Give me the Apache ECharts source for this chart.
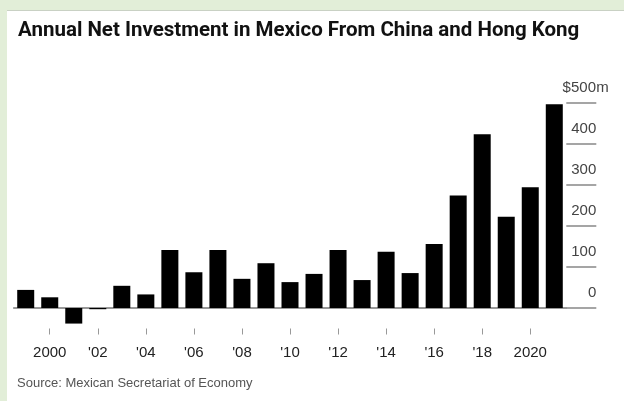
<!DOCTYPE html>
<html>
<head>
<meta charset="utf-8">
<script src="https://cdn.jsdelivr.net/npm/echarts@6.0.0/dist/echarts.min.js"></script>
<style>
  html, body { margin: 0; padding: 0; width: 624px; height: 401px; background: #e2eed8; overflow: hidden; }
  #panel { position: absolute; left: 7px; top: 10px; right: 0; bottom: 0; background: #fff; border-top: 1px solid #c9d1c4; }
  #chart { position: absolute; left: 0; top: 0; width: 624px; height: 401px; }
</style>
</head>
<body>
<div id="panel"></div>
<div id="chart"></div>
<script>
// Annual net investment, $ millions
const years = ['1999', '2000', '2001', '2002', '2003', '2004', '2005', '2006', '2007', '2008', '2009', '2010',
               '2011', '2012', '2013', '2014', '2015', '2016', '2017', '2018', '2019', '2020', '2021'];
const netInvestment = [44, 26, -38, -3, 54, 33, 141, 87, 141, 71, 109, 63,
                       83, 141, 68, 137, 85, 156, 274, 423, 222, 294, 496];

// Axis ticks
const xTickYears = ['2000', '2002', '2004', '2006', '2008', '2010', '2012', '2014', '2016', '2018', '2020'];
const xTickLabels = ['2000', "'02", "'04", "'06", "'08", "'10", "'12", "'14", "'16", "'18", '2020'];
const yTickValues = [0, 100, 200, 300, 400, 500];
const yTickLabels = ['0', '100', '200', '300', '400', '$500'];
const yUnit = 'm';

const labelFont = 'Liberation Sans, Arial, sans-serif';

const chart = echarts.init(document.getElementById('chart'), null, { renderer: 'canvas' });

chart.setOption({
  animation: false,
  title: [
    {
      text: 'Annual Net Investment in Mexico From China and Hong Kong',
      left: 18,
      top: 20,
      padding: 0,
      textStyle: {
        fontFamily: 'Roboto, Liberation Sans, sans-serif',
        fontWeight: 'bold',
        fontSize: 20.5,
        color: '#111'
      }
    },
    {
      text: 'Source: Mexican Secretariat of Economy',
      left: 17,
      top: 377,
      padding: 0,
      textStyle: {
        fontFamily: labelFont,
        fontWeight: 'normal',
        fontSize: 13,
        color: '#555'
      }
    }
  ],
  grid: {
    left: 13.7,
    top: 102.7,
    width: 552.6,
    height: 225.8,
    containLabel: false
  },
  xAxis: [
    {
      // baseline at zero
      type: 'category',
      data: years,
      position: 'bottom',
      axisLine: { show: true, onZero: true, lineStyle: { color: '#777', width: 1.5 } },
      axisTick: { show: false },
      axisLabel: { show: false },
      splitLine: { show: false }
    },
    {
      // year ticks and labels below the bars
      type: 'category',
      data: years,
      position: 'bottom',
      axisLine: { show: false, onZero: false },
      axisTick: {
        show: true,
        alignWithLabel: true,
        length: 6,
        interval: (idx, val) => xTickYears.indexOf(val) >= 0,
        lineStyle: { color: '#999', width: 1 }
      },
      axisLabel: {
        show: true,
        interval: (idx, val) => xTickYears.indexOf(val) >= 0,
        formatter: (val) => xTickLabels[xTickYears.indexOf(val)],
        margin: 16,
        fontFamily: labelFont,
        fontSize: 15,
        lineHeight: 16,
        color: '#222'
      },
      splitLine: { show: false }
    }
  ],
  yAxis: {
    type: 'value',
    position: 'right',
    min: -50,
    max: 500,
    axisLine: { show: false },
    splitLine: { show: false },
    axisTick: {
      show: true,
      length: 30,
      customValues: yTickValues,
      lineStyle: { color: '#888', width: 1.5 }
    },
    axisLabel: {
      show: true,
      customValues: yTickValues,
      align: 'left',
      verticalAlign: 'bottom',
      margin: -4,
      padding: [0, 0, 7, 0],
      formatter: (v) => {
        const i = yTickValues.indexOf(v);
        if (i < 0) return '';
        const t = '{n|' + yTickLabels[i] + '}';
        return i === yTickValues.length - 1 ? t + '{u|' + yUnit + '}' : t;
      },
      rich: {
        n: { width: 34, align: 'right', fontFamily: labelFont, fontSize: 15, lineHeight: 16, color: '#444' },
        u: { fontFamily: labelFont, fontSize: 15, lineHeight: 16, color: '#444' }
      }
    }
  },
  series: [
    {
      type: 'bar',
      xAxisIndex: 0,
      data: netInvestment,
      barWidth: 17,
      itemStyle: { color: '#000' }
    }
  ]
});
</script>
</body>
</html>
